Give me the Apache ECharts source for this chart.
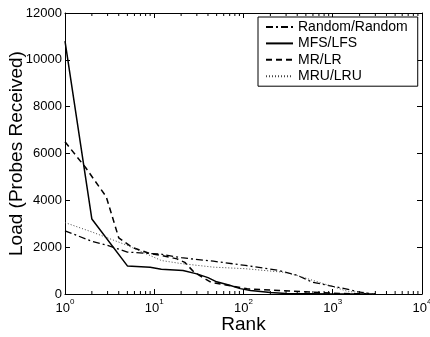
<!DOCTYPE html>
<html>
<head>
<meta charset="utf-8">
<script src="https://cdn.jsdelivr.net/npm/echarts@6/dist/echarts.min.js"></script>
<style>
  html, body { margin: 0; padding: 0; background: #fff; }
  #chart { width: 430px; height: 337px; }
</style>
</head>
<body>
<div id="chart"></div>
<script>
// values
var randomRank = [1, 2, 3, 5, 12, 20, 46, 105, 250, 400, 590, 1000, 1400, 2000, 2800];
var randomLoad = [2700, 2250, 2075, 1790, 1700, 1550, 1400, 1220, 1005, 800, 505, 330, 222, 80, 0];

var mfsRank = [1, 2, 5, 9, 12, 21, 30, 40, 50, 70, 92, 120, 200, 300, 1000, 3000];
var mfsLoad = [10800, 3200, 1200, 1140, 1060, 1000, 860, 700, 520, 370, 230, 150, 60, 25, 5, 0];

var mrRank = [1, 1.7, 2.9, 4, 5.6, 9, 12, 18, 22, 28, 43, 60, 110, 250, 600, 1200, 3000];
var mrLoad = [6500, 5400, 4150, 2400, 2000, 1720, 1650, 1500, 1350, 930, 505, 400, 222, 150, 80, 20, 0];

var mruRank = [1, 2, 5, 12, 20, 46, 105, 280, 400, 915, 1500, 2150, 2800];
var mruLoad = [3050, 2650, 2075, 1430, 1300, 1147, 1080, 930, 790, 364, 100, 77, 0];

var minorRanks = [2, 3, 4, 5, 6, 7, 8, 9, 20, 30, 40, 50, 60, 70, 80, 90,
  200, 300, 400, 500, 600, 700, 800, 900, 2000, 3000, 4000, 5000, 6000, 7000, 8000, 9000];

function pairs(xs, ys) {
  return xs.map(function (x, i) { return [x, ys[i]]; });
}

var font = 'Liberation Sans, Arial, Helvetica, sans-serif';
var chart = echarts.init(document.getElementById('chart'));

var xBase = {
  type: 'log',
  logBase: 10,
  min: 1,
  max: 10000,
  axisLine: { onZero: false, lineStyle: { color: '#000', width: 1 } },
  axisTick: { inside: true, length: 5, lineStyle: { color: '#000' } },
  splitLine: { show: false }
};
var yBase = {
  type: 'value',
  min: 0,
  max: 12000,
  interval: 2000,
  axisLine: { show: true, lineStyle: { color: '#000', width: 1 } },
  axisTick: { show: true, inside: true, length: 5, lineStyle: { color: '#000' } },
  splitLine: { show: false }
};

var option = {
  animation: false,
  grid: { left: 65, right: 8, top: 13, bottom: 43, containLabel: false, outerBoundsMode: 'none' },
  legend: {
    left: 258,
    top: 17,
    orient: 'vertical',
    data: ['Random/Random', 'MFS/LFS', 'MR/LR', 'MRU/LRU'],
    itemWidth: 27,
    itemHeight: 12,
    itemGap: 2.4,
    padding: [3, 10, 3, 7],
    borderColor: '#000',
    borderWidth: 1,
    borderRadius: 0,
    backgroundColor: '#fff',
    itemStyle: { opacity: 0 },
    textStyle: { fontFamily: font, fontSize: 14, color: '#000' }
  },
  xAxis: [
    Object.assign({}, xBase, {
      position: 'bottom',
      name: 'Rank',
      nameLocation: 'middle',
      nameGap: 21,
      nameMoveOverlap: false,
      nameTextStyle: { fontFamily: font, fontSize: 19, color: '#000' },
      axisLabel: {
        margin: 4,
        color: '#000',
        formatter: function (v) {
          return '{b|10}{s|' + Math.round(Math.log10(v)) + '}';
        },
        rich: {
          b: { fontFamily: font, fontSize: 13, color: '#000', padding: [4, 0, 0, 0] },
          s: { fontFamily: font, fontSize: 8, color: '#000', verticalAlign: 'top' }
        }
      }
    }),
    Object.assign({}, xBase, {
      position: 'top',
      axisLabel: { show: false }
    })
  ],
  yAxis: [
    Object.assign({}, yBase, {
      position: 'left',
      name: 'Load (Probes Received)',
      nameLocation: 'middle',
      nameGap: 39,
      nameMoveOverlap: false,
      nameTextStyle: { fontFamily: font, fontSize: 19, color: '#000' },
      axisLabel: {
        margin: 3, fontFamily: font, fontSize: 13, color: '#000',
        formatter: function (v) { return String(v); }
      }
    }),
    Object.assign({}, yBase, {
      position: 'right',
      axisLabel: { show: false }
    })
  ],
  series: [
    {
      name: 'Random/Random',
      type: 'line',
      symbol: 'none',
      color: '#000',
      lineStyle: { color: '#000', width: 1.3, type: [7, 3, 2, 3] },
      data: pairs(randomRank, randomLoad)
    },
    {
      name: 'MFS/LFS',
      type: 'line',
      symbol: 'none',
      color: '#000',
      lineStyle: { color: '#000', width: 1.5, type: 'solid' },
      data: pairs(mfsRank, mfsLoad)
    },
    {
      name: 'MR/LR',
      type: 'line',
      symbol: 'none',
      color: '#000',
      lineStyle: { color: '#000', width: 1.5, type: [6, 4] },
      data: pairs(mrRank, mrLoad)
    },
    {
      name: 'MRU/LRU',
      type: 'line',
      symbol: 'none',
      color: '#444',
      lineStyle: { color: '#444', width: 1, type: [1, 2] },
      data: pairs(mruRank, mruLoad)
    },
    {
      // minor log ticks on bottom and top edges
      type: 'custom',
      silent: true,
      z: 5,
      data: minorRanks.map(function (r) { return [r, 0]; }),
      renderItem: function (params, api) {
        var x = api.coord([api.value(0), 0])[0];
        var cs = params.coordSys;
        var style = { stroke: '#000', lineWidth: 1 };
        return {
          type: 'group',
          children: [
            { type: 'line', shape: { x1: x, y1: cs.y + cs.height, x2: x, y2: cs.y + cs.height - 3 }, style: style },
            { type: 'line', shape: { x1: x, y1: cs.y, x2: x, y2: cs.y + 3 }, style: style }
          ]
        };
      }
    }
  ]
};

chart.setOption(option);
</script>
</body>
</html>
